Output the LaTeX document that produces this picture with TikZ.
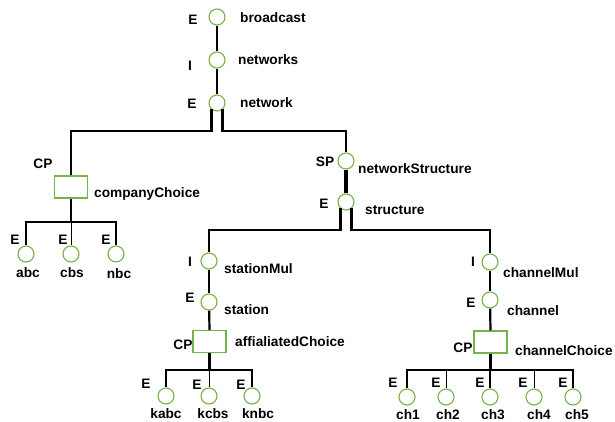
\documentclass[tikz,border=0pt]{standalone}
\usepackage{fontspec}
\setmainfont{Liberation Sans}
\definecolor{grn}{RGB}{118,178,74}
\begin{document}
\begin{tikzpicture}[x=1pt,y=-1pt,
  every node/.style={font=\fontsize{13.7}{16}\selectfont\bfseries},
  ent/.style={circle,draw=grn,line width=1.1pt,minimum size=16pt,inner sep=0pt},
  choice/.style={rectangle,draw=grn,line width=1.1pt,minimum width=33pt,minimum height=22pt,inner sep=0pt},
  lbl/.style={anchor=west,inner sep=0pt},
  tag/.style={inner sep=0pt},
  tk/.style={line width=2.8pt},
  tn/.style={line width=1pt}]
\useasboundingbox[fill=white] (0,0) rectangle (615,422);
% junction levels
\coordinate (j1) at (0,131);
\coordinate (j2) at (0,230);
\coordinate (j3) at (0,222);
\coordinate (j4) at (0,370);
\coordinate (j5) at (0,370);
% top chain
\node[ent] (broadcast) at (217,17) {};
\node[tag] (tbroadcast) at (193,20) {E};
\node[lbl] (lbroadcast) at (240,18) {broadcast};
\node[ent] (networks) at (217,60) {};
\node[tag] (tnetworks) at (190,66) {I};
\node[lbl] (lnetworks) at (238,60) {networks};
\node[ent] (network) at (217,103) {};
\node[tag] (tnetwork) at (192,104) {E};
\node[lbl] (lnetwork) at (240,103) {network};
% company branch
\node[choice] (cc) at (71,187) {};
\node[tag] (tcc) at (43,164) {CP};
\node[lbl] (lcc) at (94,194) {companyChoice};
\node[ent] (abc) at (26,254) {};
\node[tag] (tabc) at (15,240) {E};
\node[tag] (labc) at (28,273) {abc};
\node[ent] (cbs) at (71,254) {};
\node[tag] (tcbs) at (63,240) {E};
\node[tag] (lcbs) at (72,273) {cbs};
\node[ent] (nbc) at (116,254) {};
\node[tag] (tnbc) at (106,240) {E};
\node[tag] (lnbc) at (119,274) {nbc};
% structure branch
\node[ent] (ns) at (346,161) {};
\node[tag] (tns) at (325,162) {SP};
\node[lbl] (lns) at (358,169) {networkStructure};
\node[ent] (st) at (346,202) {};
\node[tag] (tst) at (324,204) {E};
\node[lbl] (lst) at (365,210) {structure};
% station branch
\node[ent] (sm) at (209,261) {};
\node[tag] (tsm) at (190,262) {I};
\node[lbl] (lsm) at (224,269) {stationMul};
\node[ent] (sta) at (209,302) {};
\node[tag] (tsta) at (190,298) {E};
\node[lbl] (lsta) at (224,310) {station};
\node[choice] (ac) at (209.5,341.5) {};
\node[tag] (tac) at (183,345) {CP};
\node[lbl] (lac) at (235,342) {affialiatedChoice};
\node[ent] (kabc) at (166,396) {};
\node[tag] (tkabc) at (146,384) {E};
\node[tag] (lkabc) at (166,414) {kabc};
\node[ent] (kcbs) at (209,396) {};
\node[tag] (tkcbs) at (197,385) {E};
\node[tag] (lkcbs) at (213,414) {kcbs};
\node[ent] (knbc) at (252,396) {};
\node[tag] (tknbc) at (241,385) {E};
\node[tag] (lknbc) at (258,414) {knbc};
% channel branch
\node[ent] (cm) at (490,262) {};
\node[tag] (tcm) at (473,262) {I};
\node[lbl] (lcm) at (503,273) {channelMul};
\node[ent] (ch) at (490,300) {};
\node[tag] (tch) at (471,303) {E};
\node[lbl] (lch) at (507,311) {channel};
\node[choice] (chc) at (490.5,342) {};
\node[tag] (tchc) at (463,348) {CP};
\node[lbl] (lchc) at (515,351) {channelChoice};
\node[ent] (c1) at (407,397) {};
\node[tag] (tc1) at (393,383) {E};
\node[tag] (lc1) at (408,414.5) {ch1};
\node[ent] (c2) at (446,397) {};
\node[tag] (tc2) at (436,383) {E};
\node[tag] (lc2) at (448,414.5) {ch2};
\node[ent] (c3) at (490,397) {};
\node[tag] (tc3) at (480,383) {E};
\node[tag] (lc3) at (493,414.5) {ch3};
\node[ent] (c4) at (534,397) {};
\node[tag] (tc4) at (523,383) {E};
\node[tag] (lc4) at (539,414.5) {ch4};
\node[ent] (c5) at (573,397) {};
\node[tag] (tc5) at (563,383) {E};
\node[tag] (lc5) at (577,414.5) {ch5};
% connectors
\draw[tk] (broadcast) -- (networks);
\draw[tk] (networks) -- (network);
\draw[tk] (network.229) |- (cc.north |- j1) -- (cc.north);
\draw[tk] (network.311) |- (ns.north |- j1) -- (ns.north);
\draw[tk] (cc.south) -- (cc.south |- j3);
\draw[tk] (abc.north) -- (abc.north |- j3) -- (nbc.north |- j3) -- (nbc.north);
\draw[tn] (cbs.north |- j3) -- (cbs.north);
\draw[line width=3.2pt] (ns) -- (st);
\draw[line width=2.4pt] (st.229) |- (sm.north |- j2) -- (sm.north);
\draw[line width=2.4pt] (st.311) |- (cm.north |- j2) -- (cm.north);
\draw[line width=2.2pt] (sm) -- (sta);
\draw[line width=2.2pt] (sta) -- (ac.north);
\draw[tk] (ac.south) -- (ac.south |- j4);
\draw[tk] (kabc.north) -- (kabc.north |- j4) -- (knbc.north |- j4) -- (knbc.north);
\draw[tn] (kcbs.north |- j4) -- (kcbs.north);
\draw[line width=2.2pt] (cm) -- (ch);
\draw[line width=2.2pt] (ch) -- (chc.north);
\draw[tk] (chc.south) -- (chc.south |- j5);
\draw[tk] (c1.north) -- (c1.north |- j5) -- (c5.north |- j5) -- (c5.north);
\draw[tn] (c2.north |- j5) -- (c2.north);
\draw[tk] (c3.north |- j5) -- (c3.north);
\draw[tn] (c4.north |- j5) -- (c4.north);
\end{tikzpicture}
\end{document}
